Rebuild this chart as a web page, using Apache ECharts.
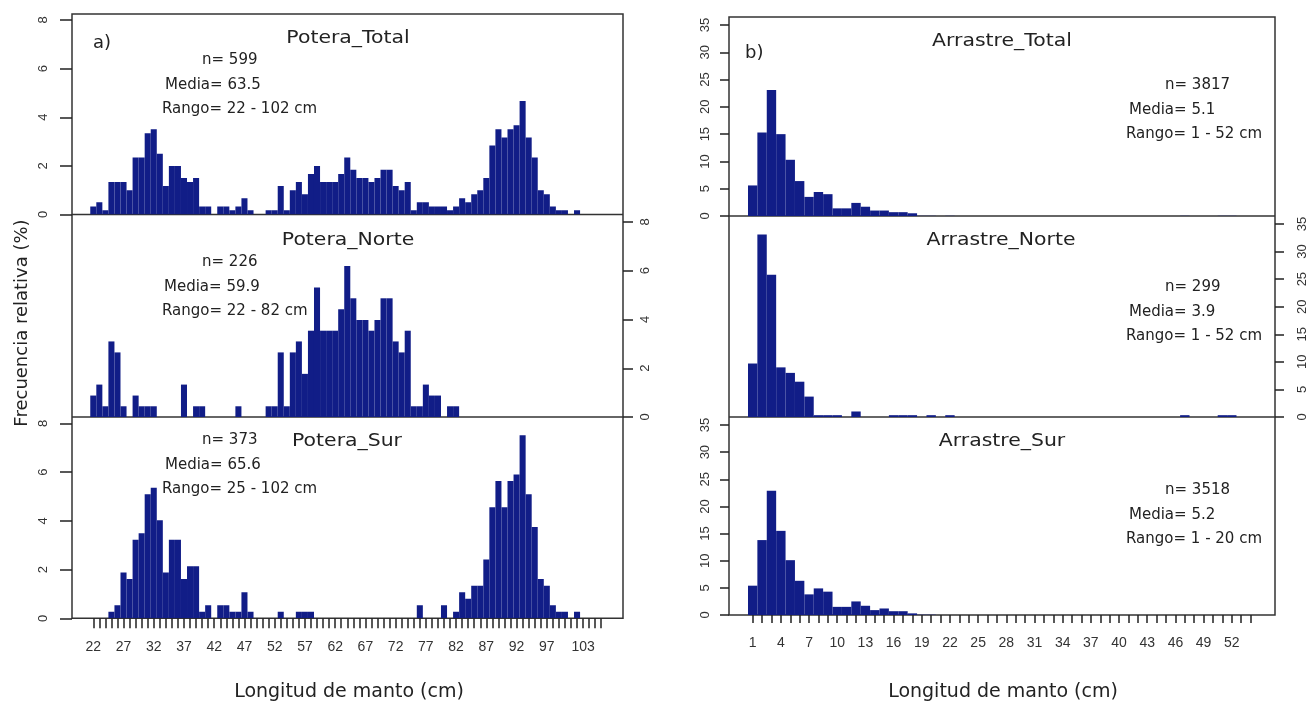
<!DOCTYPE html>
<html>
<head>
    <meta charset="utf-8">
    <title>Longitud de manto</title>
    <script src="https://cdn.jsdelivr.net/npm/echarts@6/dist/echarts.min.js"></script>
</head>
<body style="margin:0;background:#fff;">
<div id="main" style="width:1309px;height:704px;"></div>
<script type="text/javascript">
// longitudes (cm) - panel a) Potera
var lengthsA = [22,23,24,25,26,27,28,29,30,31,32,33,34,35,36,37,38,39,40,41,42,43,44,45,46,47,48,49,50,51,
    52,53,54,55,56,57,58,59,60,61,62,63,64,65,66,67,68,69,70,71,72,73,74,75,76,77,78,79,80,81,
    82,83,84,85,86,87,88,89,90,91,92,93,94,95,96,97,98,99,100,101,102];
var poteraTotal = [0.33,0.5,0.17,1.34,1.34,1.34,1.0,2.34,2.34,3.34,3.51,2.5,1.17,2.0,2.0,1.5,1.34,1.5,0.33,0.33,
    0,0.33,0.33,0.17,0.33,0.67,0.17,0,0,0.17,0.17,1.17,0.17,1.0,1.34,0.83,1.67,2.0,1.34,1.34,
    1.34,1.67,2.34,1.84,1.5,1.5,1.34,1.5,1.84,1.84,1.17,1.0,1.34,0.17,0.5,0.5,0.33,0.33,0.33,0.17,
    0.33,0.67,0.5,0.83,1.0,1.5,2.84,3.51,3.17,3.51,3.67,4.67,3.17,2.34,1.0,0.83,0.33,0.17,0.17,0,0.17];
var poteraNorte = [0.88,1.33,0.44,3.1,2.65,0.44,0,0.88,0.44,0.44,0.44,0,0,0,0,1.33,0,0.44,0.44,0,
    0,0,0,0,0.44,0,0,0,0,0.44,0.44,2.65,0.44,2.65,3.1,1.77,3.54,5.31,3.54,3.54,
    3.54,4.42,6.19,4.87,3.98,3.98,3.54,3.98,4.87,4.87,3.1,2.65,3.54,0.44,0.44,1.33,0.88,0.88,0,0.44,
    0.44,0,0,0,0,0,0,0,0,0,0,0,0,0,0,0,0,0,0,0,0];
var poteraSur = [0,0,0,0.27,0.54,1.88,1.61,3.22,3.49,5.09,5.36,4.02,1.88,3.22,3.22,1.61,2.14,2.14,0.27,0.54,
    0,0.54,0.54,0.27,0.27,1.07,0.27,0,0,0,0,0.27,0,0,0.27,0.27,0.27,0,0,0,
    0,0,0,0,0,0,0,0,0,0,0,0,0,0,0.54,0,0,0,0.54,0,
    0.27,1.07,0.8,1.34,1.34,2.41,4.56,5.63,4.56,5.63,5.9,7.51,5.09,3.75,1.61,1.34,0.54,0.27,0.27,0,0.27];

// longitudes (cm) - panel b) Arrastre
var lengthsB = [1,2,3,4,5,6,7,8,9,10,11,12,13,14,15,16,17,18,19,20,21,22,23,24,25,26,
    27,28,29,30,31,32,33,34,35,36,37,38,39,40,41,42,43,44,45,46,47,48,49,50,51,52];
var arrastreTotal = [5.6,15.3,23.1,15.0,10.3,6.4,3.5,4.4,4.0,1.4,1.4,2.4,1.7,1.0,1.0,0.7,0.7,0.5,0.03,0.03,0,0.03,0,0,0,0,
    0,0,0,0,0,0,0,0,0,0,0,0,0,0,0,0,0,0,0,0,0.03,0,0,0,0.03,0.03];
var arrastreNorte = [9.7,33.1,25.8,9.0,8.0,6.4,3.7,0.33,0.33,0.33,0,1.0,0,0,0,0.33,0.33,0.33,0,0.33,0,0.33,0,0,0,0,
    0,0,0,0,0,0,0,0,0,0,0,0,0,0,0,0,0,0,0,0,0.33,0,0,0,0.33,0.33];
var arrastreSur = [5.4,13.8,22.9,15.5,10.1,6.3,3.8,4.9,4.3,1.5,1.5,2.5,1.7,0.9,1.2,0.7,0.7,0.3,0.05,0.05,0,0,0,0,0,0,
    0,0,0,0,0,0,0,0,0,0,0,0,0,0,0,0,0,0,0,0,0,0,0,0,0,0];

// etiquetas del eje x
var xLabelsA = [22,27,32,37,42,47,52,57,62,67,72,77,82,87,92,97,103];
var xLabelsB = [1,4,7,10,13,16,19,22,25,28,31,34,37,40,43,46,49,52];

var titles = ['Potera_Total','Potera_Norte','Potera_Sur','Arrastre_Total','Arrastre_Norte','Arrastre_Sur'];
var statN = ['n= 599','n= 226','n= 373','n= 3817','n= 299','n= 3518'];
var statMedia = ['Media= 63.5','Media= 59.9','Media= 65.6','Media= 5.1','Media= 3.9','Media= 5.2'];
var statRango = ['Rango= 22 - 102 cm','Rango= 22 - 82 cm','Rango= 25 - 102 cm','Rango= 1 - 52 cm','Rango= 1 - 52 cm','Rango= 1 - 20 cm'];

var barColor = '#111d87';
var txtColor = '#222';
var lineColor = '#333';
var font = "'DejaVu Sans', 'Liberation Sans', sans-serif";
var tickFont = "'Liberation Sans', Arial, sans-serif";

var ticksA = [];
for (var t = 22; t <= 106; t++) ticksA.push(t);
var ticksB = [];
for (var t = 1; t <= 54; t++) ticksB.push(t);

// the grid of each panel spans 0 .. top tick value; frames are drawn separately
// margin = distance from box edge to label centre (labels centred on their anchor)
var panels = [
    {left: 72, top: 20, width: 551, height: 194.5, xr: [18.48, 109.6], ymax: 8, step: 2, side: 'left', bottom: false,
     xs: lengthsA, ys: poteraTotal, xt: ticksA, xl: xLabelsA, tick: 12, margin: 29, xmargin: 28.5, xtick: 10},
    {left: 72, top: 222, width: 551, height: 195, xr: [18.48, 109.6], ymax: 8, step: 2, side: 'right', bottom: false,
     xs: lengthsA, ys: poteraNorte, xt: ticksA, xl: xLabelsA, tick: 10, margin: 22, xmargin: 28.5, xtick: 10},
    {left: 72, top: 423.3, width: 551, height: 195, xr: [18.48, 109.6], ymax: 8, step: 2, side: 'left', bottom: true,
     xs: lengthsA, ys: poteraSur, xt: ticksA, xl: xLabelsA, tick: 12, margin: 29, xmargin: 28.5, xtick: 10},
    {left: 729, top: 25, width: 546, height: 191, xr: [-1.52, 56.6], ymax: 35, step: 5, side: 'left', bottom: false,
     xs: lengthsB, ys: arrastreTotal, xt: ticksB, xl: xLabelsB, tick: 9, margin: 24, xmargin: 28, xtick: 8},
    {left: 729, top: 224, width: 546, height: 193, xr: [-1.52, 56.6], ymax: 35, step: 5, side: 'right', bottom: false,
     xs: lengthsB, ys: arrastreNorte, xt: ticksB, xl: xLabelsB, tick: 9, margin: 27, xmargin: 28, xtick: 8},
    {left: 729, top: 425, width: 546, height: 190, xr: [-1.52, 56.6], ymax: 35, step: 5, side: 'left', bottom: true,
     xs: lengthsB, ys: arrastreSur, xt: ticksB, xl: xLabelsB, tick: 9, margin: 24, xmargin: 28, xtick: 8}
];

function renderBar(params, api) {
    var x = api.value(0), y = api.value(1);
    if (!y) return;
    var p0 = api.coord([x - 0.5, y]);
    var p1 = api.coord([x + 0.5, 0]);
    return {
        type: 'rect',
        shape: {x: p0[0], y: p0[1], width: p1[0] - p0[0], height: p1[1] - p0[1]},
        style: {fill: barColor}
    };
}

var grids = [], xAxes = [], yAxes = [], series = [];
panels.forEach(function (p, i) {
    grids.push({left: p.left, top: p.top, width: p.width, height: p.height, show: false});
    xAxes.push({
        type: 'value', gridIndex: i, min: p.xr[0], max: p.xr[1], position: 'bottom',
        axisLine: {show: false, onZero: false}, splitLine: {show: false},
        axisTick: {show: p.bottom, inside: false, length: p.xtick, customValues: p.xt,
            lineStyle: {color: '#222', width: 1.5}},
        axisLabel: {show: p.bottom, customValues: p.xl, margin: p.xmargin,
            align: 'center', verticalAlign: 'middle',
            color: '#333', fontSize: 14, fontFamily: tickFont}
    });
    yAxes.push({
        type: 'value', gridIndex: i, min: 0, max: p.ymax, interval: p.step, position: p.side,
        axisLine: {show: false, onZero: false}, splitLine: {show: false},
        axisTick: {show: true, inside: false, length: p.tick,
            lineStyle: {color: '#222', width: 1.5}},
        axisLabel: {show: true, rotate: 90, margin: p.margin,
            align: 'center', verticalAlign: 'middle',
            color: '#333', fontSize: 13, fontFamily: tickFont}
    });
    series.push({
        type: 'custom', xAxisIndex: i, yAxisIndex: i, clip: true, silent: true,
        renderItem: renderBar, encode: {x: 0, y: 1},
        data: p.xs.map(function (l, j) { return [l, p.ys[j]]; })
    });
});

var graphics = [];
// panel frames
[[72, 14, 551, 604.3, 214.5, 417], [729, 17, 546, 598, 216, 417]].forEach(function (f) {
    graphics.push({type: 'rect', silent: true, shape: {x: f[0], y: f[1], width: f[2], height: f[3]},
        style: {fill: null, stroke: lineColor, lineWidth: 1.5}});
    [f[4], f[5]].forEach(function (yy) {
        graphics.push({type: 'line', silent: true, shape: {x1: f[0], y1: yy, x2: f[0] + f[2], y2: yy},
            style: {stroke: lineColor, lineWidth: 1.5}});
    });
});

// text annotations
var titlePos = [[348, 39], [348, 241], [347, 442], [1002, 42], [1001, 241], [1002, 442]];
var statPos = [[202, 165, 162, 60], [202, 164, 162, 262], [202, 165, 162, 440],
    [1165, 1129, 1126, 85], [1165, 1129, 1126, 287], [1165, 1129, 1126, 490]];
function txt(s, x, y, size, align, rot, sx) {
    graphics.push({type: 'text', x: x, y: y, rotation: rot || 0, scaleX: sx || 1, silent: true,
        style: {text: s, fill: txtColor, fontSize: size, fontFamily: font,
            textAlign: align || 'center', textVerticalAlign: 'middle'}});
}
titles.forEach(function (s, i) {
    txt(s, titlePos[i][0], titlePos[i][1], 17, 'center', 0, 1.2);
    var sp = statPos[i];
    txt(statN[i], sp[0], sp[3], 15, 'left');
    txt(statMedia[i], sp[1], sp[3] + 25, 15, 'left');
    txt(statRango[i], sp[2], sp[3] + 49, 15, 'left');
});
txt('a)', 93, 43, 18, 'left');
txt('b)', 745, 53, 18, 'left');
txt('Frecuencia relativa (%)', 22, 323, 18, 'center', Math.PI / 2);
txt('Longitud de manto (cm)', 349, 692, 19, 'center');
txt('Longitud de manto (cm)', 1003, 692, 19, 'center');

var myChart = echarts.init(document.getElementById('main'), null, {renderer: 'canvas'});
myChart.setOption({
    animation: false,
    backgroundColor: '#fff',
    grid: grids,
    xAxis: xAxes,
    yAxis: yAxes,
    series: series,
    graphic: graphics
});
</script>
</body>
</html>
